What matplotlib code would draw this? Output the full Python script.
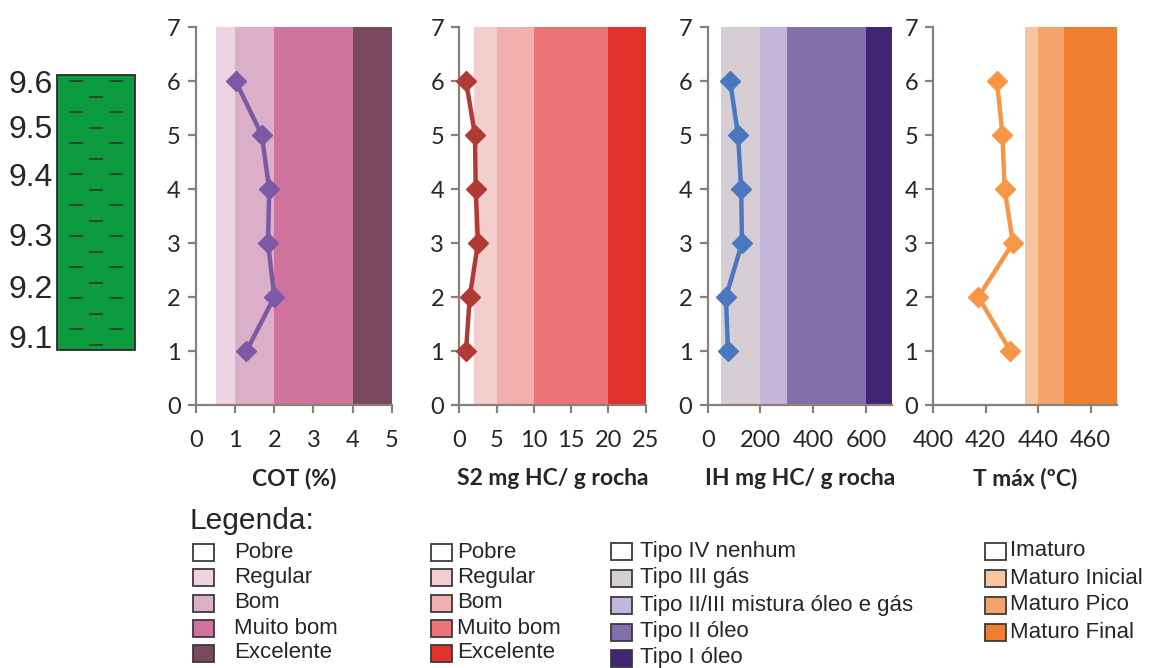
import matplotlib
matplotlib.use("Agg")
import matplotlib.pyplot as plt
from matplotlib.patches import Rectangle

# ---- data -------------------------------------------------------------
samples = [1, 2, 3, 4, 5, 6]

cot = [1.29, 2.00, 1.84, 1.87, 1.68, 1.01]
s2 = [0.9, 1.4, 2.5, 2.2, 2.1, 0.9]
ih = [77, 69, 130, 127, 115, 85]
tmax = [429.4, 417.2, 430.4, 427.2, 426.4, 424.3]

depth_labels = ["9.6", "9.5", "9.4", "9.3", "9.2", "9.1"]

cot_edges = [0, 0.5, 1, 2, 4, 5]
cot_labels = ["Pobre", "Regular", "Bom", "Muito bom", "Excelente"]
cot_colors = ["#ffffff", "#eed4e3", "#dcafc8", "#cf739e", "#7a4960"]

s2_edges = [0, 2, 5, 10, 20, 25]
s2_labels = ["Pobre", "Regular", "Bom", "Muito bom", "Excelente"]
s2_colors = ["#ffffff", "#f4cdcd", "#f1b0ae", "#ed7476", "#e2302b"]

ih_edges = [0, 50, 200, 300, 600, 700]
ih_labels = ["Tipo IV nenhum", "Tipo III gás", "Tipo II/III mistura óleo e gás",
             "Tipo II óleo", "Tipo I óleo"]
ih_colors = ["#ffffff", "#d6ced4", "#c3b6d9", "#8270aa", "#412574"]

tmax_edges = [400, 435, 440, 450, 470]
tmax_labels = ["Imaturo", "Maturo Inicial", "Maturo Pico", "Maturo Final"]
tmax_colors = ["#ffffff", "#f7c6a1", "#f4a46b", "#ef7f2f"]

W, H = 1149, 668
fig = plt.figure(figsize=(W / 100, H / 100), dpi=100)

tick_font = "Lato"
spine_col = "#8a807a"
txt_col = "#262626"


def px_axes(x0, x1, ytop=27, ybot=405):
    return fig.add_axes([x0 / W, 1 - ybot / H, (x1 - x0) / W, (ybot - ytop) / H])


panels = [
    (196, 391.7, cot, cot_edges, cot_colors, (0, 5), [0, 1, 2, 3, 4, 5],
     "#7b59a5", "COT (%)"),
    (459.3, 645.7, s2, s2_edges, s2_colors, (0, 25), [0, 5, 10, 15, 20, 25],
     "#b23a35", "S2 mg HC/ g rocha"),
    (707.7, 892.3, ih, ih_edges, ih_colors, (0, 700), [0, 200, 400, 600],
     "#4a78bf", "IH mg HC/ g rocha"),
    (933.3, 1116.7, tmax, tmax_edges, tmax_colors, (400, 470), [400, 420, 440, 460],
     "#f79646", "T máx (ºC)"),
]

for x0, x1, vals, edges, cols, xlim, xticks, lc, xlabel in panels:
    ax = px_axes(x0, x1)
    for a, b, c in zip(edges[:-1], edges[1:], cols):
        if c != "#ffffff":
            ax.axvspan(a, b, color=c, lw=0, zorder=0)
    ax.plot(vals, samples, color=lc, lw=3.2, marker="D", ms=10.5,
            markeredgecolor=lc, zorder=3, clip_on=False)
    ax.set_xlim(*xlim)
    ax.set_ylim(0, 7)
    ax.set_xticks(xticks)
    ax.set_yticks(range(8))
    for s in ("top", "right"):
        ax.spines[s].set_visible(False)
    for s in ("left", "bottom"):
        ax.spines[s].set_color(spine_col)
        ax.spines[s].set_linewidth(1.6)
    ax.tick_params(direction="out", length=6, width=1.6, color=spine_col,
                   labelsize=17, labelcolor=txt_col)
    ax.tick_params(axis="x", pad=12)
    ax.tick_params(axis="y", pad=5)
    for lab in ax.get_xticklabels() + ax.get_yticklabels():
        lab.set_fontfamily(tick_font)
    ax.set_xlabel(xlabel, fontsize=16.5, fontweight="bold", fontfamily=tick_font,
                  color=txt_col, labelpad=12)
    ax.set_facecolor("none")

# ---- overlay in pixel coordinates: lithology column and legend ----------
ov = fig.add_axes([0, 0, 1, 1], zorder=-1)
ov.set_xlim(0, W)
ov.set_ylim(H, 0)
ov.axis("off")

col_x0, col_x1, col_y0, col_y1 = 57, 135, 75, 350
ov.add_patch(Rectangle((col_x0, col_y0), col_x1 - col_x0, col_y1 - col_y0,
                       facecolor="#0b9a3e", edgecolor="#2a2a2a", lw=1.3))
# shale dash texture
row_step = 15.5
yy = col_y0 + 6
row = 0
while yy < col_y1 - 3:
    if row % 2 == 0:
        xs = [col_x0 + 19, col_x1 - 19]
    else:
        xs = [(col_x0 + col_x1) / 2]
    for xc in xs:
        ov.plot([xc - 6, xc + 6], [yy, yy], color="#333333", lw=1.2)
    yy += row_step
    row += 1

label_y = [85, 130, 178, 238, 290, 340]
for lab, y in zip(depth_labels, label_y):
    ov.text(9, y, lab, fontsize=23, fontfamily="Liberation Sans",
            color=txt_col, va="center", ha="left")

ov.text(189, 521, "Legenda:", fontsize=21.5, fontfamily="Liberation Sans",
        color=txt_col, va="center", ha="left")

legend_cols = [
    (193, 234, [552, 577, 603, 628, 653], cot_labels, cot_colors),
    (431, 457, [552, 577, 603, 628, 653], s2_labels, s2_colors),
    (611, 640, [551, 578, 605, 632, 658], ih_labels, ih_colors),
    (985, 1010, [551, 578, 605, 632], tmax_labels, tmax_colors),
]
bw, bh = 21, 17
for bx, tx, ys, labs, cols in legend_cols:
    for y, lab, c in zip(ys, labs, cols):
        ov.add_patch(Rectangle((bx, y - bh / 2), bw, bh, facecolor=c,
                               edgecolor="#3a3a3a", lw=1.3))
        ov.text(tx, y, lab, fontsize=16, fontfamily="Liberation Sans",
                color=txt_col, va="center", ha="left")

fig.savefig("out.png", dpi=100)
